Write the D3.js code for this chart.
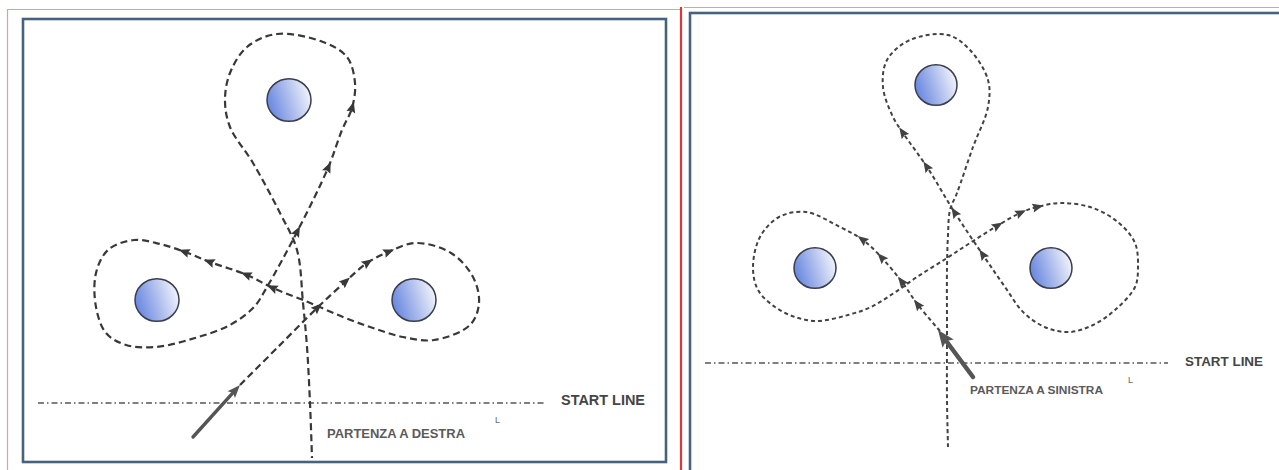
<!DOCTYPE html>
<html><head><meta charset="utf-8">
<script src="https://cdn.jsdelivr.net/npm/d3@7"></script>
<style>html,body{margin:0;padding:0;background:#fff;overflow:hidden}</style>
</head><body>
<script>
// ---- Data (course coordinates, field units relative to each panel's frame) ----
// Left panel: "PARTENZA A DESTRA"
const leftBuoys = [[266,81],[134,281],[391,281]];
// route points [x, y, arrowhead(1/0)]
const leftRoute = [
  [217,366,0],[255,328,0],[294,289,1],[322,263,1],[344,244,1],[365,233,1],
  [393,224,0],[428,234,0],[450,258,0],[456,284,0],[447,306,0],[411,321,0],
  [380,318,0],[350,309,0],[320,298,0],[285,283,0],[250,269,1],[224,256,1],
  [187,243,1],[162,233,1],[137,225,0],[111,221,0],[85,231,0],[73,254,0],
  [73,288,0],[83,314,0],[103,326,0],[133,328,0],[172,319,0],[207,306,0],
  [231,288,0],[244,268,0],[274,213,1],[305,149,1],[319,111,0],[329,89,1],
  [332,64,0],[324,38,0],[300,23,0],[254,15,0],[224,28,0],[207,54,0],
  [202,81,0],[207,108,0],[230,144,0],[257,194,0],[274,231,0],[280,284,0],
  [284,328,0],[287,384,0],[289,439,0]
];
const leftStartLine = [[15,384],[522,384]];
const leftStartArrow = [[170,418],[217,366]];
const leftLabels = ["START LINE", "PARTENZA A DESTRA"];

// Right panel: "PARTENZA A SINISTRA"
const rightBuoys = [[246,72],[125,255],[361,255]];
const rightRoute = [
  [250,318,0],[228,292,1],[212,269,1],[192,245,1],[173,227,1],[150,214,0],
  [116,199,0],[89,204,0],[70,224,0],[63,254,0],[68,277,0],[85,294,0],
  [105,304,0],[127,308,0],[158,302,0],[181,294,0],[204,280,0],[227,264,0],
  [257,245,0],[280,230,0],[307,213,1],[330,200,1],[347,194,1],[372,190,0],
  [403,195,0],[429,210,0],[445,230,0],[448,254,0],[445,274,0],[425,297,0],
  [403,312,0],[380,319,0],[357,315,0],[334,300,0],[315,274,0],[293,242,1],
  [265,200,1],[237,154,1],[213,120,1],[203,104,0],[193,74,0],[197,47,0],
  [220,27,0],[258,22,0],[280,37,0],[298,67,0],[298,94,0],[283,134,0],
  [267,180,0],[260,197,0],[258,222,0],[257,254,0],[257,317,0],[257,387,0],
  [258,434,0]
];
const rightStartLine = [[15,350],[478,350]];
const rightStartArrow = [[283,364],[248,317]];
const rightLabels = ["START LINE", "PARTENZA A SINISTRA"];

// ---- Drawing ----
const W = 1279, H = 470;
const svg = d3.select("body").append("svg").attr("width", W).attr("height", H)
  .style("display","block");

const defs = svg.append("defs");
const grad = defs.append("linearGradient").attr("id","buoyGrad")
  .attr("x1","0").attr("y1","0.65").attr("x2","1").attr("y2","0.35");
grad.append("stop").attr("offset","0").attr("stop-color","#6484df");
grad.append("stop").attr("offset","0.5").attr("stop-color","#abbbec");
grad.append("stop").attr("offset","1").attr("stop-color","#f4f5fb");

// outer page decorations
svg.append("line").attr("x1",7).attr("x2",680).attr("y1",9.5).attr("y2",9.5)
  .attr("stroke","#e69a9a").attr("stroke-width",1.2);
svg.append("line").attr("x1",7.5).attr("x2",7.5).attr("y1",9).attr("y2",H)
  .attr("stroke","#e69a9a").attr("stroke-width",1.2);
svg.append("line").attr("x1",684).attr("x2",W).attr("y1",7.5).attr("y2",7.5)
  .attr("stroke","#e69a9a").attr("stroke-width",1.2);
svg.append("line").attr("x1",681).attr("x2",681).attr("y1",7).attr("y2",H)
  .attr("stroke","#e0353a").attr("stroke-width",2.2);

const panels = [
  {x0:23, y0:19, w:643, h:443, buoys:leftBuoys, route:leftRoute, start:leftStartLine,
   arrow:leftStartArrow, labels:leftLabels, r:22, dash:"7,4", routeW:2.2, routeColor:"#383838",
   arrowW:3.4, headL:13, headW:10, ahL:11, ahW:9,
   startLabel:{x:538, y:381, size:14.5, len:84},
   partLabel:{x:304, y:414, size:13, len:138},
   mark:{x:472, y:401}},
  {x0:690, y0:13, w:600, h:470, buoys:rightBuoys, route:rightRoute, start:rightStartLine,
   arrow:rightStartArrow, labels:rightLabels, r:21, dash:"4,3", routeW:2, routeColor:"#424242",
   arrowW:4.5, headL:17, headW:14, ahL:11, ahW:9,
   startLabel:{x:495, y:348, size:13, len:78},
   partLabel:{x:280, y:377, size:11.5, len:133},
   mark:{x:438, y:367}}
];

panels.forEach(p => {
  const x = d3.scaleLinear().domain([0, p.w]).range([p.x0, p.x0 + p.w]);
  const y = d3.scaleLinear().domain([0, p.h]).range([p.y0, p.y0 + p.h]);
  const g = svg.append("g");

  // frame
  g.append("rect").attr("x", x(0)).attr("y", y(0)).attr("width", x(p.w)-x(0))
    .attr("height", y(p.h)-y(0)).attr("fill","#fff")
    .attr("stroke","#46627f").attr("stroke-width",2.6);

  // start line (dash-dot)
  g.append("line").attr("x1", x(p.start[0][0])).attr("y1", y(p.start[0][1]))
    .attr("x2", x(p.start[1][0])).attr("y2", y(p.start[1][1]))
    .attr("stroke","#555").attr("stroke-width",1.5)
    .attr("stroke-dasharray","6,3,1.5,3");

  // route
  const line = d3.line().x(d => x(d[0])).y(d => y(d[1]))
    .curve(d3.curveCatmullRom.alpha(0.5));
  g.append("path").attr("d", line(p.route)).attr("fill","none")
    .attr("stroke", p.routeColor).attr("stroke-width", p.routeW)
    .attr("stroke-dasharray", p.dash);

  // arrowheads on route
  p.route.forEach((d, i) => {
    if (!d[2]) return;
    const a = p.route[Math.max(0, i-1)], b = p.route[Math.min(p.route.length-1, i+1)];
    let ux = x(b[0]) - x(a[0]), uy = y(b[1]) - y(a[1]);
    const n = Math.hypot(ux, uy); ux /= n; uy /= n;
    const cx = x(d[0]), cy = y(d[1]);
    const L = p.ahL, Wd = p.ahW / 2;
    const tip = [cx + ux*L*0.6, cy + uy*L*0.6];
    const bx = cx - ux*L*0.4, by = cy - uy*L*0.4;
    const pts = [tip, [bx - uy*Wd, by + ux*Wd], [bx + ux*L*0.15, by + uy*L*0.15], [bx + uy*Wd, by - ux*Wd]];
    g.append("polygon").attr("points", pts.map(q => q.join(",")).join(" "))
      .attr("fill", p.routeColor);
  });

  // solid starting arrow
  {
    const [s, e] = p.arrow;
    const sx = x(s[0]), sy = y(s[1]), ex = x(e[0]), ey = y(e[1]);
    let ux = ex - sx, uy = ey - sy; const n = Math.hypot(ux, uy); ux /= n; uy /= n;
    const bx = ex - ux*p.headL, by = ey - uy*p.headL;
    g.append("line").attr("x1", sx).attr("y1", sy)
      .attr("x2", bx + ux*2).attr("y2", by + uy*2)
      .attr("stroke","#555").attr("stroke-width", p.arrowW).attr("stroke-linecap","round");
    const hw = p.headW/2;
    g.append("polygon").attr("points",
      [[ex,ey],[bx - uy*hw, by + ux*hw],[bx + ux*p.headL*0.2, by + uy*p.headL*0.2],[bx + uy*hw, by - ux*hw]]
        .map(q => q.join(",")).join(" "))
      .attr("fill","#555");
  }

  // buoys
  g.selectAll("ellipse.buoy").data(p.buoys).join("ellipse").attr("class","buoy")
    .attr("cx", d => x(d[0])).attr("cy", d => y(d[1]))
    .attr("rx", p.r).attr("ry", p.r*0.97)
    .attr("fill","url(#buoyGrad)").attr("stroke","#3a3d4a").attr("stroke-width",1.5);

  // labels
  g.append("text").attr("x", x(p.startLabel.x)).attr("y", y(p.startLabel.y))
    .attr("dominant-baseline","central")
    .attr("font-family","'Liberation Sans', Arial, sans-serif").attr("font-weight","bold")
    .attr("font-size", p.startLabel.size).attr("fill","#454545")
    .attr("textLength", p.startLabel.len).attr("lengthAdjust","spacingAndGlyphs")
    .text(p.labels[0]);
  g.append("text").attr("x", x(p.partLabel.x)).attr("y", y(p.partLabel.y))
    .attr("dominant-baseline","central")
    .attr("font-family","'Liberation Sans', Arial, sans-serif").attr("font-weight","bold")
    .attr("font-size", p.partLabel.size).attr("fill","#5a5a5a")
    .attr("textLength", p.partLabel.len).attr("lengthAdjust","spacingAndGlyphs")
    .text(p.labels[1]);
  g.append("text").attr("x", x(p.mark.x)).attr("y", y(p.mark.y))
    .attr("dominant-baseline","central")
    .attr("font-family","'Liberation Sans', Arial, sans-serif")
    .attr("font-size", 9).attr("fill","#666").text("L");
});
</script>
</body></html>
